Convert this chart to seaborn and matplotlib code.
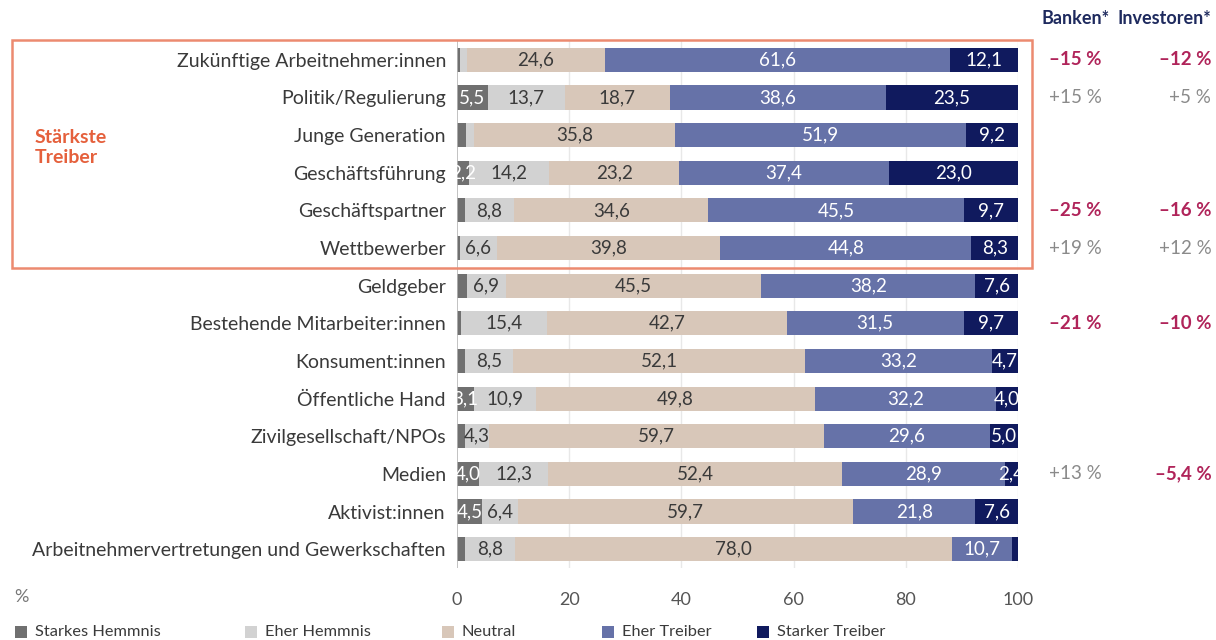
import matplotlib
matplotlib.use("Agg")
import matplotlib.pyplot as plt
from matplotlib.patches import Rectangle
import seaborn as sns
import numpy as np

sns.set_theme(style="white")
plt.rcParams['font.family'] = ['Lato', 'DejaVu Sans']

categories = [
    "Zukünftige Arbeitnehmer:innen", "Politik/Regulierung", "Junge Generation",
    "Geschäftsführung", "Geschäftspartner", "Wettbewerber", "Geldgeber",
    "Bestehende Mitarbeiter:innen", "Konsument:innen", "Öffentliche Hand",
    "Zivilgesellschaft/NPOs", "Medien", "Aktivist:innen",
    "Arbeitnehmervertretungen und Gewerkschaften",
]
starkes_hemmnis = [0.5, 5.5, 1.6, 2.2, 1.4, 0.5, 1.8, 0.7, 1.5, 3.1, 1.4, 4.0, 4.5, 1.5]
eher_hemmnis    = [1.2, 13.7, 1.5, 14.2, 8.8, 6.6, 6.9, 15.4, 8.5, 10.9, 4.3, 12.3, 6.4, 8.8]
neutral         = [24.6, 18.7, 35.8, 23.2, 34.6, 39.8, 45.5, 42.7, 52.1, 49.8, 59.7, 52.4, 59.7, 78.0]
eher_treiber    = [61.6, 38.6, 51.9, 37.4, 45.5, 44.8, 38.2, 31.5, 33.2, 32.2, 29.6, 28.9, 21.8, 10.7]
starker_treiber = [12.1, 23.5, 9.2, 23.0, 9.7, 8.3, 7.6, 9.7, 4.7, 4.0, 5.0, 2.4, 7.6, 1.0]

series_names = ["Starkes Hemmnis", "Eher Hemmnis", "Neutral", "Eher Treiber", "Starker Treiber"]
series_colors = ["#707070", "#d2d2d2", "#d8c7b9", "#6672a8", "#101a5e"]
label_colors = ["white", "#3a3a3a", "#3a3a3a", "white", "white"]

banken = ["–15 %", "+15 %", "", "", "–25 %", "+19 %", "", "–21 %", "", "", "", "+13 %", "", ""]
investoren = ["–12 %", "+5 %", "", "", "–16 %", "+12 %", "", "–10 %", "", "", "", "–5,4 %", "", ""]

W, H = 1216, 640
fig = plt.figure(figsize=(W / 100, H / 100), dpi=100)
ax = fig.add_axes([457 / W, 1 - 568 / H, 561 / W, (568 - 41) / H])

series = [starkes_hemmnis, eher_hemmnis, neutral, eher_treiber, starker_treiber]
cums = np.cumsum(np.array(series), axis=0)

# faint grid behind bars
for gx in [20, 40, 60, 80, 100]:
    ax.axvline(gx, color="#e8e8e8", lw=1, zorder=0)

# stacked bars: draw cumulative totals back to front
for i in range(4, -1, -1):
    sns.barplot(x=cums[i], y=categories, orient="h", color=series_colors[i],
                width=0.64, saturation=1, linewidth=0, ax=ax, zorder=2)

# value labels
for i, s in enumerate(series):
    for r, v in enumerate(s):
        if v >= 2.0:
            center = cums[i][r] - v / 2
            ax.text(center, r, f"{v:.1f}".replace(".", ","), ha="center", va="center",
                    fontsize=13.5, color=label_colors[i], zorder=5, clip_on=True)

ax.axvline(0, color="#b8b8b8", lw=1.2, zorder=3)
ax.set_xlim(0, 100)
ax.set_ylim(13.5, -0.5)
ax.set_xticks([0, 20, 40, 60, 80, 100])
ax.set_xlabel("")
ax.set_ylabel("")
for sp in ax.spines.values():
    sp.set_visible(False)
ax.tick_params(axis="x", length=0, pad=17, labelsize=13, labelcolor="#555555")
ax.tick_params(axis="y", length=0, pad=8, labelsize=14, labelcolor="#3a3a3a")

# right-hand columns
tr = ax.get_yaxis_transform()
for r in range(len(categories)):
    for txt, xpos, ha in [(banken[r], 1.1016, "center"), (investoren[r], 1.3445, "right")]:
        if txt:
            neg = txt.startswith("–")
            ax.text(xpos, r, txt, transform=tr, ha=ha, va="center", clip_on=False,
                    fontsize=13.5, color="#b0245a" if neg else "#8a8a8a",
                    fontweight="bold" if neg else "normal")

fig.text(1076 / W, 1 - 18 / H, "Banken*", ha="center", va="center", fontsize=13,
         fontweight="bold", color="#1e2a5e")
fig.text(1164 / W, 1 - 18 / H, "Investoren*", ha="center", va="center", fontsize=13,
         fontweight="bold", color="#1e2a5e")

# highlight box
fig.patches.append(Rectangle((12 / W, 1 - 268 / H), (1032 - 12) / W, (268 - 40) / H,
                             transform=fig.transFigure, fill=False, edgecolor="#ec8a70",
                             lw=1.8, zorder=10))
fig.text(35 / W, 1 - 129 / H, "Stärkste\nTreiber", ha="left", va="top", fontsize=14,
         fontweight="bold", color="#e5603c", linespacing=1.2)

fig.text(14 / W, 1 - 597 / H, "%", ha="left", va="center", fontsize=13, color="#777777")

# legend
leg_x = [15, 245, 442, 602, 757]
for name, col, lx in zip(series_names, series_colors, leg_x):
    fig.patches.append(Rectangle((lx / W, 1 - 638 / H), 12 / W, 12 / H,
                                 transform=fig.transFigure, facecolor=col, edgecolor="none"))
    fig.text((lx + 20) / W, 1 - 632 / H, name, ha="left", va="center", fontsize=11.8,
             color="#3a3a3a")

fig.savefig("out.png", dpi=100)
